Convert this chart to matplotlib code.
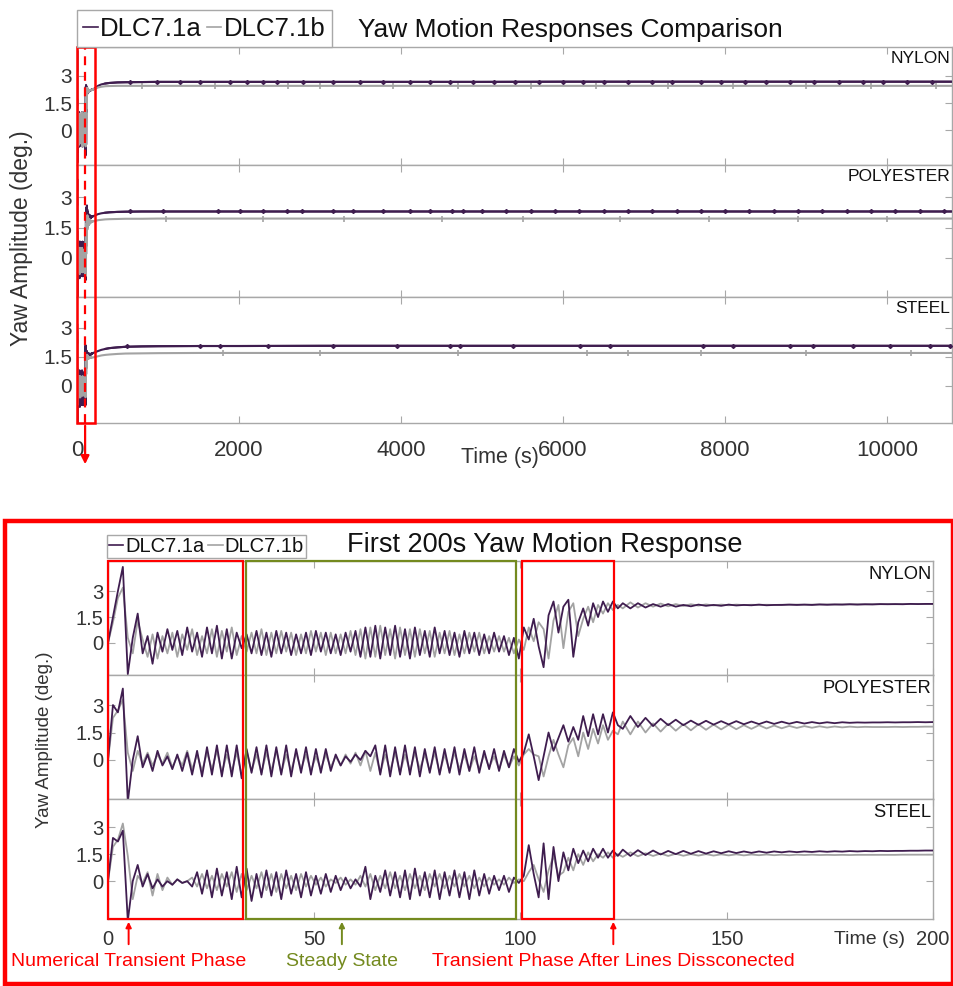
import numpy as np
import matplotlib
matplotlib.use("Agg")
import matplotlib.pyplot as plt
from matplotlib.patches import Rectangle, FancyArrowPatch
from matplotlib.lines import Line2D
from matplotlib.transforms import blended_transform_factory as blend

W, H = 954, 986
PURPLE = "#3f1d4f"; GREY = "#a3a3a3"; RED = "#ff0000"; OLIVE = "#748a1f"
AXC = "#a8a8a8"; TXT = "#333333"
plt.rcParams.update({"font.family": ["Liberation Sans", "DejaVu Sans"], "text.color": TXT,
                     "xtick.color": AXC, "ytick.color": AXC,
                     "xtick.labelcolor": TXT, "ytick.labelcolor": TXT})
NARROW = ["Liberation Sans Narrow", "Liberation Sans", "DejaVu Sans"]

MATERIALS = ["NYLON", "POLYESTER", "STEEL"]
SERIES = ["DLC7.1a", "DLC7.1b"]

# ---- first 200 s, part 1: samples every 1.2 s from t=0 ----
ny_a1 = [0.0, 1.5, 3.0, 4.4, -1.8, 0.3, 1.7, -0.6, 0.4, -1.2,
         0.6, -0.5, 0.8, -0.4, 0.7, -0.7, 0.9, -0.5, 0.6, -0.8,
         0.9, -0.6, 1.0, -0.9, 0.8, -0.9, 0.6, -0.3, 0.5, -0.6,
         0.7, -0.7, 0.6, -0.8, 0.7, -0.6, 0.6, -0.7, 0.5, -0.6,
         0.6, -0.7, 0.7, -0.5, 0.6, -0.6, 0.5, -0.7, 0.6, -0.5,
         0.7, -0.8, 0.9, -0.8, 1.0, -0.9, 0.9, -0.7, 1.0, -0.8,
         0.8, -0.9, 0.9, -0.7, 0.7, -0.8, 0.9, -0.6, 0.7, -0.7,
         0.6, -0.8, 0.7, -0.6, 0.6, -0.7, 0.5, -0.6, 0.6, -0.5,
         0.4, -0.7, 0.3, -0.9, 0.9, 0.2, 1.4, -0.2, -1.4, 1.6,
         2.4, 0.6, 2.1, 2.5, -0.8, 1.2, 2.0, 1.0, 2.3, 1.5,
         2.4, 1.8, 2.4, 2.0]
ny_b1 = [0.0, 1.2, 2.6, 3.2, 0.3, -0.6, 1.3, 0.2, -0.8, 0.5,
         -0.9, 0.4, -0.6, 0.6, -0.8, 0.5, -0.4, 0.8, -0.7, 0.4,
         -0.6, 0.8, -0.8, 0.7, -0.5, 0.9, -0.7, 0.4, -0.5, 0.6,
         -0.6, 0.8, -0.7, 0.6, -0.6, 0.7, -0.5, 0.6, -0.7, 0.5,
         -0.6, 0.7, -0.5, 0.6, -0.7, 0.6, -0.6, 0.5, -0.6, 0.7,
         -0.7, 0.8, -0.9, 0.9, -0.8, 1.0, -0.7, 0.8, -0.9, 0.9,
         -0.7, 0.8, -0.8, 0.8, -0.6, 0.7, -0.8, 0.6, -0.6, 0.7,
         -0.7, 0.5, -0.6, 0.6, -0.5, 0.6, -0.6, 0.4, -0.5, 0.4,
         -0.5, 0.3, -0.6, 0.2, -0.4, 0.9, 0.1, 1.2, 0.8, -0.9,
         1.3, 2.2, -0.3, 1.8, 2.3, 0.4, 1.4, 2.1, 1.2, 2.2,
         1.7, 2.3, 1.9, 2.2]
po_a1 = [0.0, 3.0, 2.6, 3.9, -2.3, 0.0, 1.3, -0.4, 0.3, -0.6,
         0.5, -0.3, 0.2, -0.5, 0.3, -0.6, 0.4, -0.8, 0.5, -0.9,
         0.7, -0.8, 0.8, -0.9, 0.8, -0.9, 0.8, -1.0, 0.6, -0.7,
         0.7, -0.8, 0.8, -0.9, 0.7, -0.8, 0.8, -0.9, 0.6, -0.7,
         0.7, -0.8, 0.6, -0.7, 0.6, -0.6, 0.3, -0.3, 0.2, -0.1,
         0.3, 0.0, 0.5, 0.2, 0.8, -0.8, 0.8, -0.9, 0.7, -0.8,
         0.8, -0.8, 0.7, -0.9, 0.6, -0.7, 0.7, -0.8, 0.6, -0.7,
         0.7, -0.8, 0.6, -0.6, 0.7, -0.7, 0.5, -0.5, 0.6, -0.6,
         0.5, -0.4, 0.6, -0.1, 0.4, 1.4, 0.2, -1.1, 0.2, 1.5,
         0.5, 1.2, 1.9, 1.0, 1.8, 1.1, 2.4, 1.3, 2.5, 1.4,
         2.5, 1.5, 2.6, 1.9]
po_b1 = [0.0, 2.3, 2.7, 3.3, 0.4, -0.6, 0.5, -0.2, 0.4, -0.3,
         0.3, -0.2, 0.4, -0.4, 0.2, -0.3, 0.5, -0.5, 0.3, -0.6,
         0.4, -0.5, 0.5, -0.7, 0.3, -0.6, 0.4, -0.8, 0.5, -0.6,
         0.3, -0.7, 0.4, -0.6, 0.5, -0.7, 0.3, -0.6, 0.4, -0.5,
         0.3, -0.6, 0.2, -0.5, 0.3, -0.4, 0.2, -0.3, 0.3, -0.2,
         0.4, -0.3, 0.5, -0.6, 0.4, -0.7, 0.3, -0.6, 0.4, -0.7,
         0.3, -0.6, 0.4, -0.5, 0.3, -0.6, 0.4, -0.7, 0.3, -0.6,
         0.4, -0.5, 0.3, -0.6, 0.2, -0.5, 0.3, -0.4, 0.2, -0.5,
         0.3, -0.4, 0.2, -0.3, 0.3, 0.6, 0.3, 0.2, -0.9, 0.2,
         1.1, 0.3, -0.4, 0.8, 1.2, 0.2, 1.5, 0.6, 1.7, 0.9,
         1.9, 1.1, 1.6, 1.4]
st_a1 = [0.0, 2.4, 2.2, 2.8, -2.2, 0.0, 0.9, -0.3, 0.4, -0.4,
         0.1, -0.3, 0.0, -0.2, 0.1, -0.1, 0.0, -0.3, 0.5, -0.7,
         0.6, -0.9, 0.7, -0.8, 0.5, -1.0, 0.8, -0.9, 0.7, -1.1,
         0.4, -0.9, 0.6, -0.8, 0.5, -1.0, 0.6, -0.7, 0.4, -0.9,
         0.5, -0.8, 0.3, -0.7, 0.4, -0.6, 0.3, -0.5, 0.2, -0.4,
         0.1, -0.3, 0.8, -1.0, 0.3, -0.6, 0.6, -0.8, 0.5, -0.9,
         0.6, -1.0, 0.7, -0.8, 0.5, -0.9, 0.6, -1.0, 0.5, -0.8,
         0.6, -0.9, 0.5, -1.0, 0.6, -0.8, 0.4, -0.7, 0.3, -0.5,
         0.3, -0.6, 0.2, -0.1, 0.3, 2.0, 0.4, -0.9, 2.1, -1.0,
         1.9, 0.0, 1.6, 0.6, 1.8, 1.0, 1.7, 1.1, 1.8, 1.3,
         1.8, 1.3, 1.7, 1.4]
st_b1 = [0.0, 1.9, 2.3, 3.2, 1.4, -1.0, 0.3, -0.1, 0.5, -0.8,
         0.4, -0.5, 0.2, -0.2, 0.1, -0.1, 0.0, 0.2, -0.3, 0.4,
         -0.4, 0.3, -0.5, 0.4, -0.3, 0.5, -0.6, 0.4, -0.5, 0.3,
         -0.4, 0.5, -0.5, 0.4, -0.6, 0.4, -0.4, 0.3, -0.5, 0.4,
         -0.3, 0.3, -0.2, 0.2, -0.3, 0.1, -0.1, 0.2, -0.2, 0.1,
         -0.2, 0.3, -0.3, 0.4, -0.5, 0.3, -0.4, 0.5, -0.4, 0.3,
         -0.5, 0.4, -0.4, 0.3, -0.5, 0.4, -0.3, 0.4, -0.4, 0.3,
         -0.3, 0.4, -0.3, 0.3, -0.4, 0.2, -0.3, 0.2, -0.2, 0.1,
         -0.2, 0.2, -0.1, 0.1, 0.0, 0.5, 0.9, 0.1, -0.6, 0.6,
         1.4, 0.3, 0.5, 1.3, 0.6, 1.5, 0.9, 1.6, 1.1, 1.5,
         1.3, 1.6, 1.3, 1.5]

# ---- first 200 s, part 2: settling, evenly spaced from 124.8 s to 200 s ----
ny_a2 = [2.3, 2.0, 2.3, 2.05, 2.25, 2.1, 2.25, 2.1, 2.2, 2.12, 2.22, 2.15, 2.2, 2.15,
         2.22, 2.17, 2.2, 2.18, 2.22, 2.18, 2.2, 2.2, 2.22, 2.2, 2.22, 2.2, 2.23, 2.21,
         2.23, 2.22, 2.24, 2.22, 2.24, 2.23, 2.25, 2.24, 2.25, 2.24, 2.26, 2.25, 2.26, 2.26]
ny_b2 = [2.0, 2.35, 2.05, 2.3, 2.1, 2.28, 2.12, 2.25, 2.14, 2.24, 2.16, 2.23, 2.17, 2.22,
         2.18, 2.22, 2.19, 2.21, 2.2, 2.21, 2.2, 2.21, 2.21, 2.22, 2.21, 2.22, 2.22, 2.23,
         2.22, 2.23, 2.23, 2.24, 2.23, 2.24, 2.24, 2.25, 2.24, 2.25, 2.25, 2.26, 2.25, 2.26]
po_a2 = [1.7, 2.4, 1.8, 2.3, 1.85, 2.25, 1.9, 2.2, 1.9, 2.15, 1.92, 2.14, 1.93, 2.12,
         1.94, 2.12, 1.95, 2.1, 1.96, 2.1, 1.97, 2.09, 1.98, 2.08, 1.99, 2.07, 2.0, 2.06,
         2.01, 2.06, 2.03, 2.05, 2.04, 2.05, 2.05, 2.06, 2.05, 2.06, 2.06, 2.07, 2.06, 2.07]
po_b2 = [2.1, 1.4, 2.1, 1.5, 2.0, 1.55, 1.98, 1.6, 1.95, 1.62, 1.95, 1.65, 1.93, 1.67,
         1.92, 1.68, 1.9, 1.7, 1.9, 1.72, 1.88, 1.73, 1.86, 1.75, 1.85, 1.76, 1.84, 1.77,
         1.83, 1.78, 1.82, 1.79, 1.81, 1.8, 1.8, 1.8, 1.81, 1.8, 1.81, 1.81, 1.82, 1.82]
st_a2 = [1.75, 1.4, 1.72, 1.45, 1.7, 1.48, 1.68, 1.5, 1.68, 1.52, 1.67, 1.53, 1.66, 1.55,
         1.66, 1.56, 1.65, 1.57, 1.65, 1.58, 1.65, 1.6, 1.65, 1.61, 1.65, 1.62, 1.66, 1.63,
         1.66, 1.64, 1.67, 1.65, 1.67, 1.66, 1.68, 1.67, 1.68, 1.68, 1.69, 1.69, 1.7, 1.7]
st_b2 = [1.35, 1.6, 1.38, 1.55, 1.4, 1.53, 1.4, 1.52, 1.41, 1.5, 1.42, 1.5, 1.42, 1.49,
         1.43, 1.49, 1.43, 1.48, 1.44, 1.48, 1.44, 1.47, 1.44, 1.47, 1.45, 1.47, 1.45, 1.46,
         1.45, 1.46, 1.45, 1.46, 1.46, 1.46, 1.46, 1.46, 1.46, 1.47, 1.47, 1.47, 1.47, 1.47]

# ---- long run (top chart), after 200 s ----
t_long = [230, 260, 300, 350, 400, 500, 600, 800, 1000, 1500, 2000, 3000, 4000,
          5000, 6000, 7000, 8000, 9000, 10000, 10800]
ny_a3 = [2.35, 2.45, 2.53, 2.58, 2.61, 2.64, 2.65, 2.66, 2.67, 2.67, 2.67, 2.67, 2.67,
         2.67, 2.68, 2.68, 2.68, 2.68, 2.68, 2.68]
ny_b3 = [2.3, 2.36, 2.4, 2.43, 2.44, 2.45, 2.45, 2.45, 2.45, 2.45, 2.45, 2.45, 2.45,
         2.45, 2.45, 2.45, 2.45, 2.45, 2.45, 2.45]
po_a3 = [2.12, 2.17, 2.21, 2.24, 2.26, 2.28, 2.29, 2.3, 2.3, 2.3, 2.3, 2.3, 2.3,
         2.3, 2.3, 2.3, 2.3, 2.3, 2.3, 2.3]
po_b3 = [1.84, 1.87, 1.89, 1.91, 1.92, 1.93, 1.94, 1.94, 1.95, 1.95, 1.95, 1.95, 1.95,
         1.95, 1.95, 1.95, 1.95, 1.95, 1.95, 1.95]
st_a3 = [1.75, 1.8, 1.86, 1.91, 1.95, 1.99, 2.02, 2.04, 2.05, 2.06, 2.06, 2.07, 2.07,
         2.07, 2.07, 2.07, 2.07, 2.07, 2.07, 2.07]
st_b3 = [1.5, 1.53, 1.57, 1.6, 1.62, 1.65, 1.67, 1.68, 1.69, 1.7, 1.7, 1.7, 1.7,
         1.7, 1.7, 1.7, 1.7, 1.7, 1.7, 1.7]

# short bursts seen along the long-run lines (times, s)
ny_a_blips = [650, 990, 1270, 1520, 1890, 2100, 2300, 2470, 2790, 3160, 3490, 3780, 4110,
              4360, 4600, 4890, 5150, 5400, 5700, 6000, 6250, 6500, 6800, 7100, 7350, 7700,
              7950, 8250, 8500, 8800, 9100, 9400, 9700, 9950, 10250, 10550]
ny_b_blips = [800, 1700, 2600, 3000, 3900, 4700, 5600, 6400, 7300, 8100, 9000, 9800, 10600]
po_a_blips = [654, 1061, 1740, 2011, 2295, 2591, 2777, 3159, 3406, 3776, 4109, 4356, 4628,
              4764, 5000, 5300, 5600, 5900, 6200, 6500, 6800, 7100, 7400, 7700, 8000, 8300,
              8600, 8900, 9200, 9500, 9800, 10100, 10400, 10700]
po_b_blips = [1100, 2300, 3300, 4500, 5500, 6700, 7800, 8900, 10000]
st_a_blips = [617, 1518, 1765, 2357, 3159, 3949, 4603, 4726, 5380, 6207, 6577, 7725, 8095,
              8799, 9083, 9577, 10033, 10527, 10774]
st_b_blips = [1800, 3000, 4700, 6300, 6800, 7700, 9000, 10300]

# phase markers (s)
phase_boxes = [(0, 32.7, RED), (33.5, 99.0, OLIVE), (100.4, 122.7, RED)]
phase_arrows = [(5.0, "Numerical Transient Phase", RED), (56.7, "Steady State", OLIVE),
                (122.5, "Transient Phase After Lines Dissconected", RED)]

SER = {"NYLON": (ny_a1, ny_a2, ny_a3, ny_b1, ny_b2, ny_b3, ny_a_blips, ny_b_blips),
       "POLYESTER": (po_a1, po_a2, po_a3, po_b1, po_b2, po_b3, po_a_blips, po_b_blips),
       "STEEL": (st_a1, st_a2, st_a3, st_b1, st_b2, st_b3, st_a_blips, st_b_blips)}


def series(p1, p2, p3=None):
    t = np.concatenate([1.2 * np.arange(len(p1)), np.linspace(124.8, 200, len(p2))])
    y = np.concatenate([p1, p2])
    if p3 is not None:
        t = np.concatenate([t, t_long]); y = np.concatenate([y, p3])
    return t, y


def px_axes(fig, x0, y0, x1, y1):
    return fig.add_axes([x0 / W, 1 - y1 / H, (x1 - x0) / W, (y1 - y0) / H])


def style(ax, fs):
    for s in ax.spines.values():
        s.set_color(AXC); s.set_linewidth(1.0)
    ax.tick_params(direction="in", top=True, right=True, length=5, width=0.8, labelsize=fs)
    ax.set_yticks([0, 1.5, 3]); ax.set_yticklabels(["0", "1.5", "3"])


fig = plt.figure(figsize=(W / 100, H / 100), dpi=100)

# ================= top chart: full run =================
top_rects = [(77, 47, 952, 165), (77, 165, 952, 297), (77, 297, 952, 423)]
top_axes = []
for (x0, y0, x1, y1), mat in zip(top_rects, MATERIALS):
    ax = px_axes(fig, x0, y0, x1, y1)
    a1, a2, a3, b1, b2, b3, ab, bb = SER[mat]
    tb, yb = series(b1, b2, b3); ta, ya = series(a1, a2, a3)
    ax.plot(ta, ya, color=PURPLE, lw=1.5, zorder=2)
    ax.plot(tb, yb, color=GREY, lw=1.5, zorder=3)
    ax.plot(ta[ta > 300], ya[ta > 300], color=PURPLE, lw=1.5, zorder=4)
    ax.plot(bb, [b3[-1]] * len(bb), ls="none", marker="|", ms=4, mew=1.2, color=GREY, zorder=3)
    ax.plot(ab, [a3[-1]] * len(ab), ls="none", marker="D", ms=2.0, color=PURPLE, zorder=4)
    ax.set_xlim(0, 10800); ax.set_ylim(-1.93, 4.6)
    ax.set_xticks([0, 2000, 4000, 6000, 8000, 10000])
    style(ax, 15)
    ax.tick_params(axis="x", pad=12, labelsize=16)
    if mat != "STEEL":
        ax.tick_params(labelbottom=False)
    ax.text(0.998, 0.97, mat, transform=ax.transAxes, ha="right", va="top",
            fontsize=12.5, color="#111111", family=NARROW)
    top_axes.append(ax)

fig.text(500 / W, 1 - 458 / H, "Time (s)", ha="center", va="center", fontsize=15.5, family=NARROW)
fig.text(22 / W, 1 - 238 / H, "Yaw Amplitude (deg.)", rotation=90, ha="center", va="center",
         fontsize=16.5)
fig.text(570 / W, 1 - 30 / H, "Yaw Motion Responses Comparison", ha="center", va="center",
         fontsize=19, color="#111111")
hnd = [Line2D([], [], color=PURPLE, lw=1.2), Line2D([], [], color=GREY, lw=1.2)]
lg = fig.legend(hnd, SERIES, loc="lower left", bbox_to_anchor=(77 / W, 1 - 47 / H), ncol=2,
                fontsize=18.5, handlelength=0.55, handletextpad=0.1, columnspacing=0.2,
                borderpad=0.25, borderaxespad=0, fancybox=False, edgecolor=AXC, framealpha=1)
for t in lg.get_texts():
    t.set_color("#111111")

# red zoom marker on the first 200 s
trf = blend(top_axes[0].transData, fig.transFigure)
fig.patches.append(Rectangle((0, 1 - 423 / H), 222, (423 - 47) / H, transform=trf, fill=False,
                             ec=RED, lw=1.8, zorder=5))
fig.lines.append(Line2D([100, 100], [1 - 423 / H, 1 - 47 / H], transform=trf, color=RED,
                        lw=1.6, ls=(0, (4, 3)), zorder=5))
fig.add_artist(FancyArrowPatch((100, 1 - 423 / H), (100, 1 - 467 / H), transform=trf,
                               arrowstyle="-|>", mutation_scale=12, color=RED, lw=1.6))

# ================= bottom chart: first 200 s =================
bot_rects = [(108, 561, 933, 675), (108, 675, 933, 799), (108, 799, 933, 919)]
bot_ylims = [(-1.85, 4.74), (-2.13, 4.64), (-2.1, 4.56)]
bot_axes = []
for (x0, y0, x1, y1), lim, mat in zip(bot_rects, bot_ylims, MATERIALS):
    ax = px_axes(fig, x0, y0, x1, y1)
    a1, a2, a3, b1, b2, b3, ab, bb = SER[mat]
    tb, yb = series(b1, b2); ta, ya = series(a1, a2)
    ax.plot(tb, yb, color=GREY, lw=1.3, zorder=2)
    ax.plot(ta, ya, color=PURPLE, lw=1.3, zorder=3)
    ax.set_xlim(0, 200); ax.set_ylim(*lim)
    ax.set_xticks([0, 50, 100, 150, 200])
    style(ax, 14.5)
    ax.tick_params(axis="x", pad=8)
    if mat != "STEEL":
        ax.tick_params(labelbottom=False)
    ax.text(0.998, 0.96, mat, transform=ax.transAxes, ha="right", va="top",
            fontsize=13.2, color="#111111", family=NARROW)
    bot_axes.append(ax)

trb = blend(bot_axes[0].transData, fig.transFigure)
for x0, x1, c in phase_boxes:
    fig.patches.append(Rectangle((x0, 1 - 919 / H), x1 - x0, (919 - 561) / H, transform=trb,
                                 fill=False, ec=c, lw=1.6, zorder=5))
for x, lab, c in phase_arrows:
    fig.add_artist(FancyArrowPatch((x, 1 - 947 / H), (x, 1 - 919 / H), transform=trb,
                                   arrowstyle="-|>", mutation_scale=8, color=c, lw=1.4))
    fig.text(x, 1 - 962 / H, lab, transform=trb, ha="center", va="center", fontsize=14,
             color=c, family=NARROW)

fig.text(870 / W, 1 - 939 / H, "Time (s)", ha="center", va="center", fontsize=14, family=NARROW)
fig.text(45 / W, 1 - 740 / H, "Yaw Amplitude (deg.)", rotation=90, ha="center", va="center",
         fontsize=13.5)
fig.text(545 / W, 1 - 545 / H, "First 200s Yaw Motion Response", ha="center", va="center",
         fontsize=19.5, color="#111111")
lg2 = fig.legend(hnd, SERIES, loc="lower left", bbox_to_anchor=(107 / W, 1 - 558 / H), ncol=2,
                 fontsize=14.5, handlelength=0.7, handletextpad=0.1, columnspacing=0.2,
                 borderpad=0.1, borderaxespad=0, fancybox=False, edgecolor=AXC, framealpha=1)
for t in lg2.get_texts():
    t.set_color("#111111")

fig.patches.append(Rectangle((5 / W, 1 - 984 / H), 948 / W, (984 - 521) / H,
                             transform=fig.transFigure, fill=False, ec=RED, lw=3.2, zorder=6))

fig.savefig("out.png", dpi=100)
